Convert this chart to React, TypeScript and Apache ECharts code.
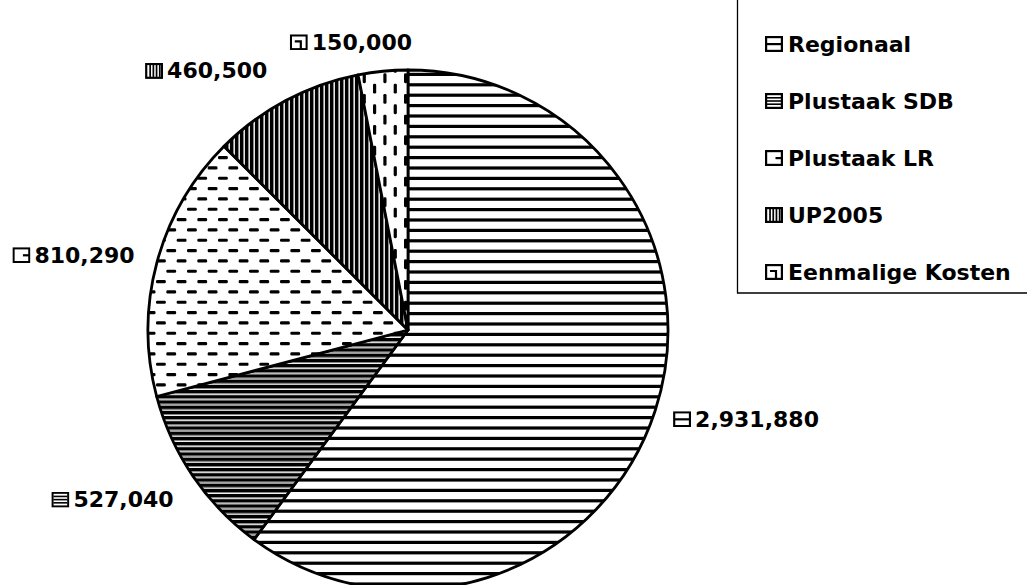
import React, { useEffect, useRef } from "react";
import * as echarts from "echarts";

const categories = ["Regionaal", "Plustaak SDB", "Plustaak LR", "UP2005", "Eenmalige Kosten"];
const values = [2931880, 527040, 810290, 460500, 150000];
// label nudges (dx, dy) per slice
const labelNudges = [
  [-6, 2],
  [2, 12],
  [2, -2],
  [-4, -12],
  [36, -9],
];

const svgUrl = (w: number, h: number, body: string) =>
  "data:image/svg+xml;charset=utf-8," +
  encodeURIComponent(
    `<svg xmlns="http://www.w3.org/2000/svg" width="${w}" height="${h}" viewBox="0 0 ${w} ${h}"><rect width="${w}" height="${h}" fill="#fff"/>${body}</svg>`
  );

function hLines(w: number, h: number, period: number, thick: number, gray: number) {
  let s = "";
  for (let y = 0; y < h - 0.01; y += period) {
    s += `<rect x="0" y="${y.toFixed(2)}" width="${w}" height="${thick}" fill="#000"/>`;
    if (gray > 0) s += `<rect x="0" y="${(y + thick).toFixed(2)}" width="${w}" height="${gray}" fill="#7a7a7a"/>`;
  }
  return s;
}
function vLines(w: number, h: number, period: number, thick: number, gray: number) {
  let s = "";
  for (let x = 0; x < w - 0.01; x += period) {
    s += `<rect x="${x.toFixed(2)}" y="0" width="${thick}" height="${h}" fill="#000"/>`;
    if (gray > 0) s += `<rect x="${(x + thick).toFixed(2)}" y="0" width="${gray}" height="${h}" fill="#7a7a7a"/>`;
  }
  return s;
}
function hDashes(size: number, n: number) {
  const p = size / n;
  let s = "";
  for (let r = 0; r < n * 2; r++) {
    const y = r * (p / 2) + 1;
    const off = r % 2 === 0 ? 0 : p / 2;
    for (let c = -1; c < n; c++) {
      const x = c * p + off + 1;
      s += `<rect x="${x.toFixed(2)}" y="${y.toFixed(2)}" width="${(p / 2 - 0.5).toFixed(2)}" height="3.2" rx="1.3" fill="#000"/>`;
    }
  }
  return s;
}
function vDashes(size: number, n: number) {
  const p = size / n;
  let s = "";
  for (let c = 0; c < n * 2; c++) {
    const x = c * (p / 2) + 1;
    const off = c % 2 === 0 ? 0 : p / 2;
    for (let r = -1; r < n; r++) {
      const y = r * p + off + 1;
      s += `<rect x="${x.toFixed(2)}" y="${y.toFixed(2)}" width="3.2" height="${(p / 2 - 0.5).toFixed(2)}" rx="1.3" fill="#000"/>`;
    }
  }
  return s;
}

const patterns = [
  { image: svgUrl(10, 52, hLines(10, 52, 10.4, 3.2, 0)), w: 10, h: 52 },
  { image: svgUrl(10, 52, hLines(10, 52, 5.2, 3.3, 1)), w: 10, h: 52 },
  { image: svgUrl(62, 62, hDashes(62, 3)), w: 62, h: 62 },
  { image: svgUrl(50, 10, vLines(50, 10, 5, 3.2, 1)), w: 50, h: 10 },
  { image: svgUrl(62, 62, vDashes(62, 3)), w: 62, h: 62 },
];

const IW = 18;
const IH = 16;
const box = `<rect x="1.1" y="1.1" width="${IW - 2.2}" height="${IH - 2.2}" fill="none" stroke="#000" stroke-width="2.2"/>`;
const iconBodies = [
  `<rect x="1" y="7" width="${IW - 2}" height="2.2" fill="#000"/>`,
  `<rect x="2" y="4" width="14" height="1.6" fill="#000"/><rect x="2" y="7.2" width="14" height="1.6" fill="#000"/><rect x="2" y="10.4" width="14" height="1.6" fill="#000"/>`,
  `<rect x="10.5" y="7" width="6.5" height="2.2" fill="#000"/>`,
  `<rect x="4.2" y="2" width="1.7" height="12" fill="#000"/><rect x="7.4" y="2" width="1.7" height="12" fill="#000"/><rect x="10.6" y="2" width="1.7" height="12" fill="#000"/><rect x="13.8" y="2" width="1.7" height="12" fill="#000"/>`,
  `<polyline points="5,7 11,7 11,15" fill="none" stroke="#000" stroke-width="2.2"/>`,
];
const icons = iconBodies.map((b) => svgUrl(IW, IH, b + box));

const FONT = "DejaVu Sans";

export default function App() {
  const ref = useRef<HTMLDivElement>(null);
  useEffect(() => {
    if (!ref.current) return;
    const chart = echarts.init(ref.current, undefined, { renderer: "svg" });
    const rich: any = {
      val: { fontFamily: FONT, fontWeight: "bold", fontSize: 22, color: "#000", padding: [0, 0, 0, 4] },
    };
    icons.forEach((ic, i) => {
      rich["ic" + i] = {
        width: IW,
        height: IH,
        backgroundColor: { image: ic },
      };
    });
    chart.setOption({
      animation: false,
      backgroundColor: "#fff",
      graphic: [
        {
          type: "rect",
          shape: { x: 737.5, y: -2, width: 300, height: 295 },
          style: { fill: "none", stroke: "#000", lineWidth: 1.3 },
          z: 10,
        },
      ],
      legend: {
        orient: "vertical",
        left: 760,
        top: 26,
        itemWidth: IW,
        itemHeight: IH,
        itemGap: 31,
        itemTextGap: 7,
        selectedMode: false,
        itemStyle: { borderWidth: 0 },
        textStyle: { fontFamily: FONT, fontWeight: "bold", fontSize: 22, color: "#000", lineHeight: 26 },
        data: categories.map((c, i) => ({ name: c, icon: "image://" + icons[i] })),
      },
      series: [
        {
          type: "pie",
          center: [408, 330],
          radius: 260,
          startAngle: 90,
          clockwise: true,
          avoidLabelOverlap: false,
          itemStyle: { borderColor: "#000", borderWidth: 2.8 },
          emphasis: { disabled: true },
          labelLine: { show: false, length: 20, length2: 0 },
          label: {
            show: true,
            position: "outside",
            rich,
          },
          labelLayout: (p: any) => {
            const n = labelNudges[p.dataIndex] || [0, 0];
            return { dx: n[0], dy: n[1] };
          },
          data: categories.map((c, i) => ({
            name: c,
            value: values[i],
            itemStyle: {
              color: {
                image: patterns[i].image,
                repeat: "repeat",
                imageWidth: patterns[i].w,
                imageHeight: patterns[i].h,
              },
            },
            label: {
              formatter: `{ic${i}|}{val|${values[i].toLocaleString("en-US")}}`,
            },
          })),
        },
      ],
    });
    return () => chart.dispose();
  }, []);
  return (
    <div
      ref={ref}
      style={{ position: "fixed", left: 0, top: 0, width: 1027, height: 585, background: "#fff" }}
    />
  );
}
